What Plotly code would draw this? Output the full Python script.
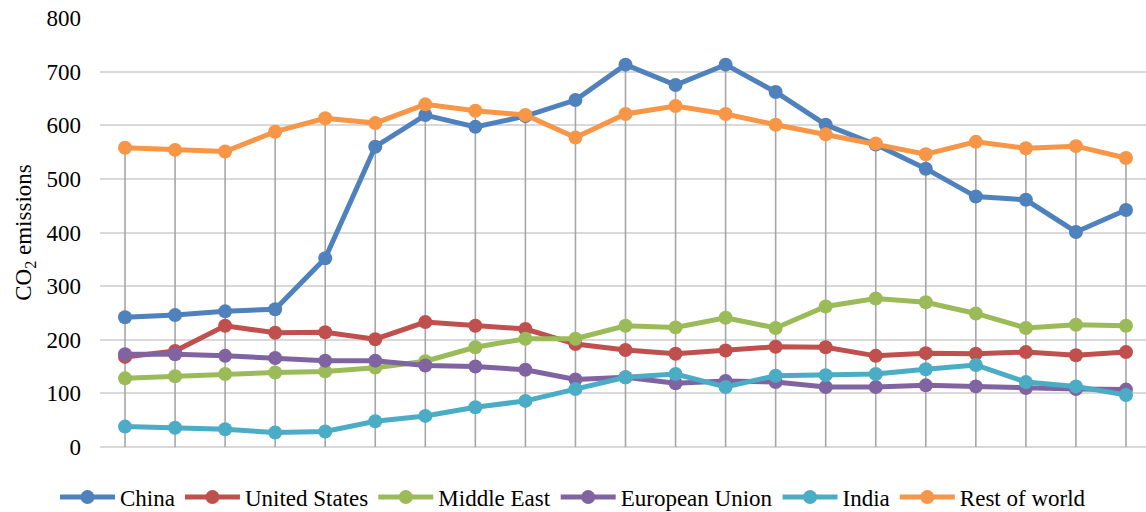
import plotly.graph_objects as go

years = list(range(21))
series_names = ["China", "United States", "Middle East", "European Union", "India", "Rest of world"]
china = [242, 246, 253, 257, 352, 560, 619, 597, 617, 647, 713, 675, 713, 662, 601, 564, 519, 467, 461, 401, 442]
united_states = [168, 179, 226, 213, 214, 201, 233, 226, 220, 192, 181, 174, 180, 187, 186, 170, 175, 174, 177, 171, 177]
middle_east = [128, 132, 136, 139, 141, 148, 160, 186, 202, 202, 226, 223, 241, 222, 262, 277, 270, 249, 222, 228, 226]
european_union = [173, 173, 170, 166, 161, 161, 152, 150, 144, 126, 130, 119, 123, 121, 112, 112, 115, 113, 110, 108, 107]
india = [38, 36, 33, 27, 29, 48, 58, 74, 86, 108, 130, 136, 112, 133, 134, 136, 145, 153, 121, 113, 97]
rest_of_world = [558, 554, 551, 588, 613, 604, 639, 627, 619, 577, 621, 636, 621, 601, 583, 566, 546, 569, 557, 561, 539]
colors = ["#4F81BD", "#C0504D", "#9BBB59", "#8064A2", "#4BACC6", "#F79646"]

all_series = [china, united_states, middle_east, european_union, india, rest_of_world]

FONT = "Times New Roman"

fig = go.Figure()

# drop lines from the highest point of each category down to the axis
dx, dy = [], []
for i, x in enumerate(years):
    top = max(s[i] for s in all_series)
    dx += [x, x, None]
    dy += [top, 0, None]
fig.add_trace(go.Scatter(x=dx, y=dy, mode="lines", line=dict(color="#A6A6A6", width=1.6),
                         showlegend=False, hoverinfo="skip"))

for name, vals, c in zip(series_names, all_series, colors):
    fig.add_trace(go.Scatter(x=years, y=vals, name=name, mode="lines+markers",
                             line=dict(color=c, width=5),
                             marker=dict(color=c, size=14)))

fig.update_layout(
    width=1146, height=512,
    margin=dict(l=100, r=0, t=18, b=65, autoexpand=False),
    paper_bgcolor="white", plot_bgcolor="white",
    font=dict(family=FONT, size=23, color="black"),
    showlegend=True,
    legend=dict(orientation="h", x=0.5, xanchor="center", xref="container",
                y=0.029, yanchor="middle", yref="container",
                font=dict(family=FONT, size=23, color="black"), itemwidth=55,
                tracegroupgap=0),
    xaxis=dict(range=[-0.5, 20.4], showticklabels=False, showgrid=False, zeroline=False,
               showline=False, fixedrange=True),
    yaxis=dict(range=[0, 800], dtick=100, showgrid=True, gridcolor="#D9D9D9", gridwidth=1.5,
               zeroline=True, zerolinecolor="#D9D9D9", zerolinewidth=1.5,
               showline=False, ticklabelstandoff=18,
               tickfont=dict(family=FONT, size=23, color="black"),
               title=dict(text="CO<sub>2</sub> emissions", font=dict(family=FONT, size=23, color="black"),
                          standoff=8)),
)

fig.write_html("out.html")
